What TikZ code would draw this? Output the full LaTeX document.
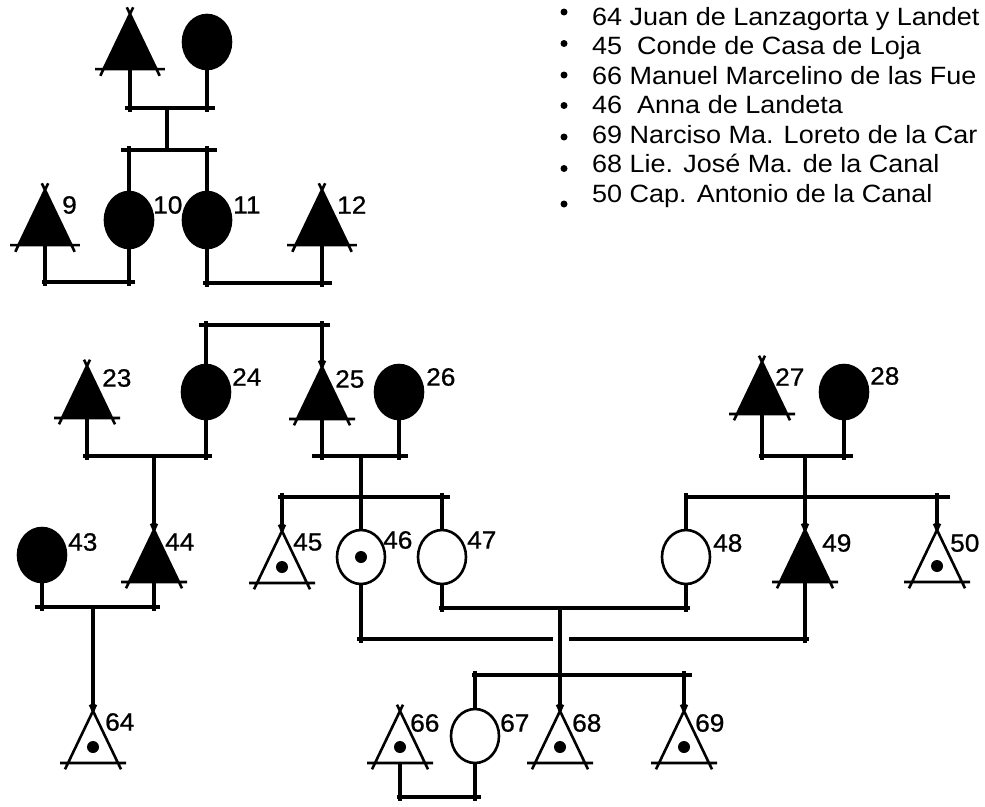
\documentclass[tikz,border=0pt]{standalone}
\usepackage{fontspec}
\setmainfont[FakeStretch=1.08]{Liberation Sans}
\newfontfamily\lblfont[FakeStretch=1.05,FakeBold=0.8]{Liberation Sans}
\usetikzlibrary{shapes.geometric,calc}
\tikzset{
  link/.style={line width=3.2pt},
  fem/.style={ellipse,draw,line width=2.6pt,minimum width=48pt,minimum height=54pt,inner sep=0pt},
  femfill/.style={fem,fill=black},
  lbl/.style={anchor=west,inner sep=0pt,font=\lblfont\fontsize{25}{25}\selectfont},
  leg/.style={anchor=base west,inner sep=0pt,font=\fontsize{25}{29}\selectfont},
  bul/.style={circle,fill=black,inner sep=0pt,minimum size=7pt},
  tri/.pic={
     \fill (0,0) -- (-25,52) -- (25,52) -- cycle;
     \draw[line width=2.6pt] (3,-6.3) -- (-28,58.3) (-3,-6.3) -- (28,58.3) (-33,52) -- (33,52);
     \coordinate (-top) at (0,0); \coordinate (-bot) at (0,52);},
  otri/.pic={
     \draw[line width=2.6pt] (3,-6.3) -- (-28,58.3) (-3,-6.3) -- (28,58.3) (-33,52) -- (33,52);
     \fill (0,36) circle (6pt);
     \coordinate (-top) at (0,0); \coordinate (-bot) at (0,52);}
}
\begin{document}
\begin{tikzpicture}[x=1pt,y=-1pt]
\fill[white] (0,0) rectangle (985,806);
\useasboundingbox (0,0) rectangle (985,806);

% ---------- top family ----------
\pic[scale=1.06] (ta) at (130,14) {tri};
\node[femfill] (ca) at (207,42) {};
\coordinate (m0) at (167,108);
\coordinate (s0) at (167,150);
\draw[link] (ta-bot) -- ([yshift=-4pt]ta-bot |- m0);
\draw[link] (ca.south) -- ([yshift=-4pt]ca.south |- m0);
\draw[link] ([xshift=-5pt]ta-bot |- m0) -- ([xshift=8pt]ca.south |- m0);
\draw[link] (m0) -- (s0);

\pic[scale=1.06] (t9) at (45,190) {tri};
\node[femfill,minimum height=56pt] (c10) at (129,220) {};
\node[femfill,minimum height=56pt] (c11) at (207,220) {};
\pic[scale=1.06] (t12) at (322,190) {tri};
\draw[link] ([xshift=-8pt]c10.north |- s0) -- ([xshift=10pt]c11.north |- s0);
\draw[link] ([yshift=4pt]c10.north |- s0) -- (c10.north);
\draw[link] ([yshift=4pt]c11.north |- s0) -- (c11.north);

\node[lbl] (l9) at (62,205) {9};
\node[lbl] (l10) at (153,205) {10};
\node[lbl] (l11) at (233,205) {11};
\node[lbl] (l12) at (337,205) {12};

\coordinate (m9) at (86,282);
\draw[link] (t9-bot) -- ([yshift=-4pt]t9-bot |- m9);
\draw[link] (c10.south) -- ([yshift=-4pt]c10.south |- m9);
\draw[link] ([xshift=-3pt]t9-bot |- m9) -- ([xshift=6pt]c10.south |- m9);

\coordinate (m11) at (265,283);
\draw[link] (c11.south) -- ([yshift=-4pt]c11.south |- m11);
\draw[link] (t12-bot) -- ([yshift=-4pt]t12-bot |- m11);
\draw[link] ([xshift=-4pt]c11.south |- m11) -- ([xshift=10pt]t12-bot |- m11);

% ---------- middle generation ----------
\coordinate (s1) at (265,325);
\pic (t23) at (87,366) {tri};
\node[femfill] (c24) at (206,392) {};
\pic (t25) at (322,367) {tri};
\node[femfill] (c26) at (399,392) {};
\draw[link] ([xshift=-7pt]c24.north |- s1) -- ([xshift=8pt]t25-top |- s1);
\draw[link] ([yshift=4pt]c24.north |- s1) -- (c24.north);
\draw[link] ([yshift=4pt]t25-top |- s1) -- (t25-top);

\node[lbl] (l23) at (102,378) {23};
\node[lbl] (l24) at (232,377) {24};
\node[lbl] (l25) at (335,379) {25};
\node[lbl] (l26) at (426,377) {26};

\pic (t27) at (762,362) {tri};
\node[femfill] (c28) at (844,392) {};
\node[lbl] (l27) at (775,377) {27};
\node[lbl] (l28) at (870,376) {28};

% marriage 23-24
\coordinate (m23) at (154,456);
\draw[link] (t23-bot) -- ([yshift=-4pt]t23-bot |- m23);
\draw[link] (c24.south) -- ([yshift=-4pt]c24.south |- m23);
\draw[link] ([xshift=-4pt]t23-bot |- m23) -- ([xshift=6pt]c24.south |- m23);

% marriage 25-26
\coordinate (m25) at (361,456);
\coordinate (s25) at (361,497);
\draw[link] (t25-bot) -- ([yshift=-4pt]t25-bot |- m25);
\draw[link] (c26.south) -- ([yshift=-4pt]c26.south |- m25);
\draw[link] ([xshift=-10pt]t25-bot |- m25) -- ([xshift=9pt]c26.south |- m25);
\draw[link] (m25) -- (s25);

% marriage 27-28
\coordinate (m27) at (805,456);
\coordinate (s27) at (805,497);
\draw[link] (t27-bot) -- ([yshift=-4pt]t27-bot |- m27);
\draw[link] (c28.south) -- ([yshift=-4pt]c28.south |- m27);
\draw[link] ([xshift=-3pt]t27-bot |- m27) -- ([xshift=9pt]c28.south |- m27);
\draw[link] (m27) -- (s27);

% ---------- third row ----------
\node[femfill] (c43) at (42,555) {};
\pic (t44) at (154,530) {tri};
\pic (t45) at (282,531) {otri};
\node[fem] (c46) at (361,557) {};
\fill (c46.center) circle (6pt);
\node[fem] (c47) at (442,557) {};
\node[fem] (c48) at (686,557) {};
\pic (t49) at (805,530) {tri};
\pic (t50) at (937,530) {otri};

\node[lbl] (l43) at (68,542) {43};
\node[lbl] (l44) at (165,542) {44};
\node[lbl] (l45) at (293,542) {45};
\node[lbl] (l46) at (383,540) {46};
\node[lbl] (l47) at (467,540) {47};
\node[lbl] (l48) at (713,543) {48};
\node[lbl] (l49) at (822,543) {49};
\node[lbl] (l50) at (950,543) {50};

\draw[link] (m23) -- (t44-top);

\draw[link] ([xshift=-4pt]t45-top |- s25) -- ([xshift=8pt]c47.north |- s25);
\draw[link] ([yshift=4pt]t45-top |- s25) -- (t45-top);
\draw[link] (s25) -- (c46.north);
\draw[link] ([yshift=4pt]c47.north |- s25) -- (c47.north);

\draw[link] ([xshift=-2pt]c48.north |- s27) -- ([xshift=13pt]t50-top |- s27);
\draw[link] ([yshift=4pt]c48.north |- s27) -- (c48.north);
\draw[link] (s27) -- (t49-top);
\draw[link] ([yshift=4pt]t50-top |- s27) -- (t50-top);

% marriage 43-44
\coordinate (m43) at (93,607);
\draw[link] (c43.south) -- ([yshift=-4pt]c43.south |- m43);
\draw[link] (t44-bot) -- ([yshift=-4pt]t44-bot |- m43);
\draw[link] ([xshift=-7pt]c43.south |- m43) -- ([xshift=6pt]t44-bot |- m43);

% marriage 46-49 (with a gap where the line from 47-48 crosses)
\coordinate (m46) at (560,639);
\draw[link] (c46.south) -- ([yshift=-4pt]c46.south |- m46);
\draw[link] (t49-bot) -- ([yshift=-4pt]t49-bot |- m46);
\draw[link] ([xshift=-4pt]c46.south |- m46) -- ([xshift=-7pt]m46);
\draw[link] ([xshift=9pt]m46) -- ([xshift=4pt]t49-bot |- m46);

% marriage 47-48
\coordinate (m47) at (560,608);
\coordinate (s47) at (560,675);
\draw[link] (c47.south) -- ([yshift=-4pt]c47.south |- m47);
\draw[link] (c48.south) -- ([yshift=-4pt]c48.south |- m47);
\draw[link] ([xshift=-3pt]c47.south |- m47) -- ([xshift=4pt]c48.south |- m47);
\draw[link] (m47) -- (s47);

% ---------- bottom row ----------
\pic (t64) at (93,711) {otri};
\node[lbl] (l64) at (105,722) {64};
\draw[link] (m43) -- (t64-top);

\pic (t66) at (400,711) {otri};
\node[fem] (c67) at (475,736) {};
\pic (t68) at (560,711) {otri};
\pic (t69) at (684,711) {otri};
\node[lbl] (l66) at (410,723) {66};
\node[lbl] (l67) at (500,723) {67};
\node[lbl] (l68) at (572,723) {68};
\node[lbl] (l69) at (695,723) {69};

\draw[link] ([xshift=-3pt]c67.north |- s47) -- ([xshift=8pt]t69-top |- s47);
\draw[link] ([yshift=4pt]c67.north |- s47) -- (c67.north);
\draw[link] (s47) -- (t68-top);
\draw[link] ([yshift=4pt]t69-top |- s47) -- (t69-top);

% marriage 66-67
\coordinate (m66) at (438,797);
\draw[link] (t66-bot) -- ([yshift=-4pt]t66-bot |- m66);
\draw[link] (c67.south) -- ([yshift=-4pt]c67.south |- m66);
\draw[link] ([xshift=-3pt]t66-bot |- m66) -- ([xshift=6pt]c67.south |- m66);

% ---------- legend ----------
\node[bul] (b1) at (564,12) {};
\node[leg] (g1) at (592,25) {64 Juan de Lanzagorta y Landet};
\node[bul] (b2) at (564,43.5) {};
\node[leg] (g2) at (592,54.5) {45\ \ Conde de Casa de Loja};
\node[bul] (b3) at (564,75) {};
\node[leg] (g3) at (592,84) {66 Manuel Marcelino de las Fue};
\node[bul] (b4) at (564,105.5) {};
\node[leg] (g4) at (592,113.5) {46\ \ Anna de Landeta};
\node[bul] (b5) at (564,137) {};
\node[leg] (g5) at (592,143) {69 Narciso Ma. Loreto de la Car};
\node[bul] (b6) at (564,168.5) {};
\node[leg] (g6) at (592,172.5) {68 Lie. José Ma. de la Canal};
\node[bul] (b7) at (564,204) {};
\node[leg] (g7) at (592,202) {50 Cap. Antonio de la Canal};
\end{tikzpicture}
\end{document}
